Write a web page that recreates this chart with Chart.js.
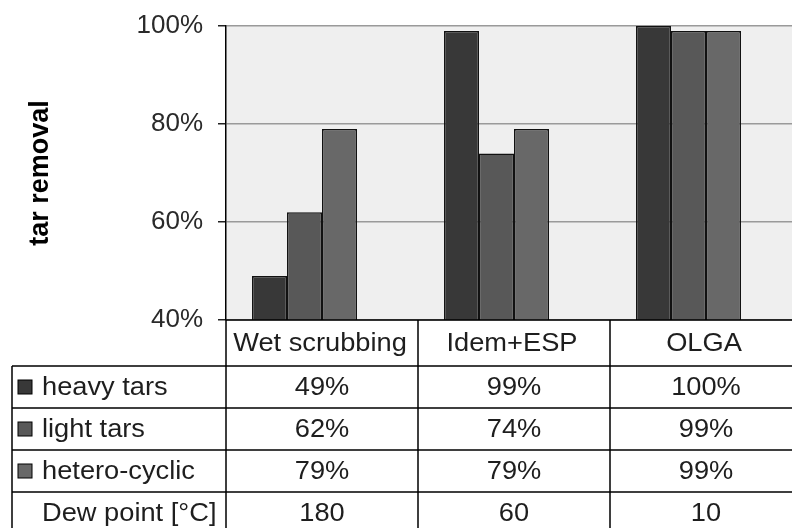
<!DOCTYPE html>
<html>
<head>
<meta charset="utf-8">
<script src="https://cdn.jsdelivr.net/npm/chart.js@4/dist/chart.umd.min.js"></script>
<style>
  html, body { margin: 0; padding: 0; background: #fff; overflow: hidden; }
  #wrap { width: 810px; height: 528px; }
</style>
</head>
<body>
<div id="wrap"><canvas id="tar" width="810" height="528"></canvas></div>
<script>
var categories = ['Wet scrubbing', 'Idem+ESP', 'OLGA'];
var heavyTars = [49, 99, 100];
var lightTars = [62, 74, 99];
var heteroCyclic = [79, 79, 99];
var dewPoint = [180, 60, 10];
var yTicks = [40, 60, 80, 100];

var seriesNames = ['heavy tars', 'light tars', 'hetero-cyclic'];
var seriesColors = ['#383838', '#585858', '#686868'];
var txtFont = '25px "Liberation Sans", Arial, sans-serif';

// the table text in the picture is a bit wider than plain Arial
function wideText(c, text, x, y, align) {
    c.save();
    c.translate(x, y);
    c.scale(1.09, 1);
    c.textAlign = align;
    c.fillText(text, 0, 0);
    c.restore();
}

// grey plot background
var plotBg = {
    id: 'plotBg',
    beforeDraw: function (chart) {
        var a = chart.chartArea;
        var c = chart.ctx;
        c.save();
        c.fillStyle = '#efefef';
        c.fillRect(a.left, a.top, a.right - a.left, a.bottom - a.top);
        c.restore();
    }
};

// data table under the plot
var dataTable = {
    id: 'dataTable',
    afterDraw: function (chart) {
        var c = chart.ctx;
        var a = chart.chartArea;
        var xs = chart.scales.x;
        var colW = (a.right - a.left) / categories.length;
        var tableLeft = 12;
        var headerH = 46;
        var rowH = 42;
        var rows = [
            { name: seriesNames[0], color: seriesColors[0], vals: heavyTars, pct: true },
            { name: seriesNames[1], color: seriesColors[1], vals: lightTars, pct: true },
            { name: seriesNames[2], color: seriesColors[2], vals: heteroCyclic, pct: true },
            { name: 'Dew point [\u00B0C]', color: null, vals: dewPoint, pct: false }
        ];
        var bodyTop = a.bottom + headerH;
        var bottom = bodyTop + rowH * rows.length;

        c.save();
        c.strokeStyle = '#000';
        c.lineWidth = 1.5;
        c.beginPath();
        // header top line (plot bottom)
        c.moveTo(a.left, a.bottom);
        c.lineTo(a.right, a.bottom);
        // row lines
        for (var r = 0; r <= rows.length; r++) {
            var y = bodyTop + r * rowH;
            c.moveTo(tableLeft, y);
            c.lineTo(a.right, y);
        }
        // column lines
        c.moveTo(tableLeft, bodyTop);
        c.lineTo(tableLeft, bottom);
        for (var k = 0; k <= categories.length; k++) {
            var x = a.left + k * colW;
            c.moveTo(x, a.bottom);
            c.lineTo(x, bottom);
        }
        c.stroke();

        c.fillStyle = '#1e1e1e';
        c.font = txtFont;
        c.textBaseline = 'middle';
        categories.forEach(function (cat, i) {
            wideText(c, cat, xs.getPixelForValue(i) - 2, a.bottom + headerH / 2 + 1, 'center');
        });

        rows.forEach(function (row, r) {
            var cy = bodyTop + r * rowH + rowH / 2 + 1;
            if (row.color) {
                c.fillStyle = row.color;
                c.fillRect(18, cy - 8, 14, 14);
                c.lineWidth = 1;
                c.strokeStyle = '#000';
                c.strokeRect(18, cy - 8, 14, 14);
            }
            c.fillStyle = '#1e1e1e';
            wideText(c, row.name, 42, cy, 'left');
            row.vals.forEach(function (v, i) {
                wideText(c, v + (row.pct ? '%' : ''), xs.getPixelForValue(i), cy, 'center');
            });
        });
        c.restore();
    }
};

var ctx = document.getElementById('tar').getContext('2d');

var chart = new Chart(ctx, {
    type: 'bar',
    data: {
        labels: categories,
        datasets: [
            { label: seriesNames[0], data: heavyTars, backgroundColor: seriesColors[0] },
            { label: seriesNames[1], data: lightTars, backgroundColor: seriesColors[1] },
            { label: seriesNames[2], data: heteroCyclic, backgroundColor: seriesColors[2] },
            // dew point is part of the table only, no visible bar
            { label: 'Dew point [\u00B0C]', data: dewPoint, backgroundColor: 'rgba(0,0,0,0)', borderWidth: 0 }
        ]
    },
    options: {
        responsive: false,
        animation: false,
        devicePixelRatio: 1,
        layout: { padding: { left: 0, right: 8, top: 26, bottom: 208 } },
        datasets: {
            bar: {
                categoryPercentage: 0.729,
                barPercentage: 1,
                borderColor: '#111',
                borderWidth: 1.5
            }
        },
        plugins: {
            legend: { display: false },
            tooltip: { enabled: false }
        },
        scales: {
            x: { display: false },
            y: {
                min: yTicks[0],
                max: yTicks[yTicks.length - 1],
                afterFit: function (scale) {
                    scale.width = 226;
                    // let layout padding decide where the plot starts
                    scale.paddingTop = 0;
                    scale.paddingBottom = 0;
                },
                afterBuildTicks: function (scale) {
                    scale.ticks = yTicks.map(function (v) { return { value: v }; });
                },
                ticks: {
                    padding: 15,
                    color: '#2a2a2a',
                    font: { family: '"Liberation Sans", Arial, sans-serif', size: 26 },
                    callback: function (v) { return v + '%'; }
                },
                grid: { color: '#9a9a9a', tickColor: '#222', tickLength: 8, lineWidth: 1.5 },
                border: { color: '#000', width: 1.5 },
                title: {
                    display: true,
                    text: 'tar removal',
                    color: '#000',
                    padding: { top: 24 },
                    font: { family: '"Liberation Sans", Arial, sans-serif', size: 27, weight: 'bold' }
                }
            }
        }
    },
    plugins: [plotBg, dataTable]
});
</script>
</body>
</html>
